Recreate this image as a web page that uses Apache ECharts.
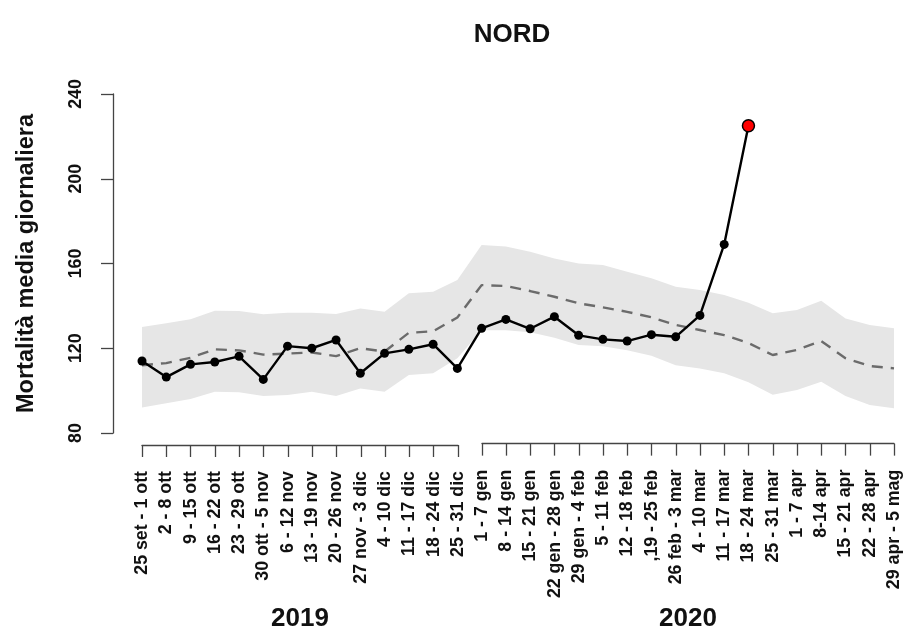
<!DOCTYPE html>
<html>
<head>
<meta charset="utf-8">
<script src="https://cdn.jsdelivr.net/npm/echarts@6/dist/echarts.min.js"></script>
<style>
html,body{margin:0;padding:0;background:#fff;}
#chart{width:903px;height:637px;}
</style>
</head>
<body>
<div id="chart"></div>
<script>
var weeks2019 = ["25 set - 1 ott","2 - 8 ott","9 - 15 ott","16 - 22 ott","23 - 29 ott","30 ott - 5 nov","6 - 12 nov","13 - 19 nov","20 - 26 nov","27 nov - 3 dic","4 - 10 dic","11 - 17 dic","18 - 24 dic","25 - 31 dic"];
var weeks2020 = ["1 - 7 gen","8 - 14 gen","15 - 21 gen","22 gen - 28 gen","29 gen - 4 feb","5 - 11 feb","12 - 18 feb",",19 - 25 feb","26 feb - 3 mar","4 - 10 mar","11 - 17 mar","18 - 24 mar","25 - 31 mar","1 - 7 apr","8-14 apr","15 - 21 apr","22 - 28 apr","29 apr - 5 mag"];
var yearLabels = ["2019","2020"];
var yTicks = [80,120,160,200,240];

// observed daily mean mortality (2019-2020 season)
var observed = [114,106.4,112.4,113.5,116.2,105.3,121,120,123.9,108.2,117.6,119.5,121.9,110.5,
                129.4,133.6,129.2,134.9,126.1,124.2,123.4,126.4,125.4,135.5,169,225,
                null,null,null,null,null,null];
// expected (baseline) values
var expected = [112,113,115.5,119.5,119,117,117.5,118,116.3,120,118.4,127.3,128,134.5,
                149.8,149.4,147,144.3,141.2,139.3,137.2,134.6,131,128.6,126.2,122.5,116.8,119.2,123.4,115.3,111.6,110.5];
// confidence band
var bandLower = [92,94,96,99.5,99.2,97.5,97.9,99.5,97.5,101,99.5,107.4,108.2,115.3,
                 128.5,128.5,127.5,125,121.5,121,119,116.5,112,110.5,108.2,104,98,100.3,104.2,97.5,93.2,91.7];
var bandUpper = [130,131.8,133.7,137.7,137.6,136,136.8,136.8,136.2,138.8,137.2,145.9,146.7,152.2,
                 168.7,168,165.6,162.4,160,159.3,156.1,153,149,147.5,145.1,141.5,136.5,138,142.4,134.1,131,129.4];

var categories = weeks2019.concat(weeks2020);
var bandWidth = bandUpper.map(function(u,i){ return +(u - bandLower[i]).toFixed(2); });
var lastIdx = 25;
var observedData = observed.map(function(v,i){
  if (i === lastIdx) {
    return {value: v, symbolSize: 12, itemStyle: {color: '#ff0000', borderColor: '#000', borderWidth: 1.5}};
  }
  return v;
});

var FONT = 'Liberation Sans, Arial, sans-serif';
var axisColor = '#444';

function yearAxis(gridIndex, data, name) {
  return {
    type: 'category', gridIndex: gridIndex, data: data, boundaryGap: false,
    position: 'bottom', offset: 19,
    axisLine: {show: true, lineStyle: {color: axisColor, width: 1.3}},
    axisTick: {show: true, length: 12, interval: 0, lineStyle: {color: axisColor, width: 1.3}},
    axisLabel: {interval: 0, rotate: 90, margin: 26, color: '#111', fontFamily: FONT, fontSize: 17.8, fontWeight: 'bold'},
    splitLine: {show: false},
    name: name, nameLocation: 'middle', nameGap: 161,
    nameTextStyle: {fontFamily: FONT, fontSize: 26, fontWeight: 'bold', color: '#111'}
  };
}

var chart = echarts.init(document.getElementById('chart'), null, {renderer: 'canvas'});
chart.setOption({
  animation: false,
  backgroundColor: '#fff',
  title: {
    text: 'NORD', left: 507, top: 17, textAlign: 'center',
    textStyle: {fontFamily: FONT, fontSize: 26, fontWeight: 'bold', color: '#111'}
  },
  grid: [
    {left: 142, right: 9, top: 94, height: 339},
    {left: 142, width: 316, top: 94, height: 339},
    {left: 482, width: 412, top: 94, height: 339}
  ],
  xAxis: [
    {type: 'category', gridIndex: 0, data: categories, boundaryGap: false, show: false},
    yearAxis(1, weeks2019, yearLabels[0]),
    yearAxis(2, weeks2020, yearLabels[1])
  ],
  yAxis: [
    {
      type: 'value', gridIndex: 0, min: yTicks[0], max: yTicks[yTicks.length-1], interval: 40,
      offset: 29,
      axisLine: {show: true, lineStyle: {color: axisColor, width: 1.3}},
      axisTick: {show: true, length: 12, lineStyle: {color: axisColor, width: 1.3}},
      axisLabel: {rotate: 90, margin: 28, color: '#111', fontFamily: FONT, fontSize: 17.8, fontWeight: 'bold'},
      splitLine: {show: false},
      name: 'Mortalità media giornaliera', nameLocation: 'middle', nameRotate: 90, nameGap: 74,
      nameTextStyle: {fontFamily: FONT, fontSize: 23.5, fontWeight: 'bold', color: '#111'}
    },
    {type: 'value', gridIndex: 1, min: 80, max: 240, show: false},
    {type: 'value', gridIndex: 2, min: 80, max: 240, show: false}
  ],
  series: [
    {
      type: 'line', name: 'lower', data: bandLower, stack: 'band', symbol: 'none',
      lineStyle: {opacity: 0}, silent: true, z: 1
    },
    {
      type: 'line', name: 'band', data: bandWidth, stack: 'band', symbol: 'none',
      lineStyle: {opacity: 0}, areaStyle: {color: '#e6e6e6', opacity: 1}, silent: true, z: 1
    },
    {
      type: 'line', name: 'atteso', data: expected, symbol: 'none',
      lineStyle: {color: '#6b6b6b', width: 2.4, type: [11, 8]}, z: 2
    },
    {
      type: 'line', name: 'osservato', data: observedData, symbol: 'circle', symbolSize: 9,
      showAllSymbol: true, connectNulls: false,
      itemStyle: {color: '#000'}, lineStyle: {color: '#000', width: 2.4}, z: 3
    }
  ]
});
</script>
</body>
</html>
